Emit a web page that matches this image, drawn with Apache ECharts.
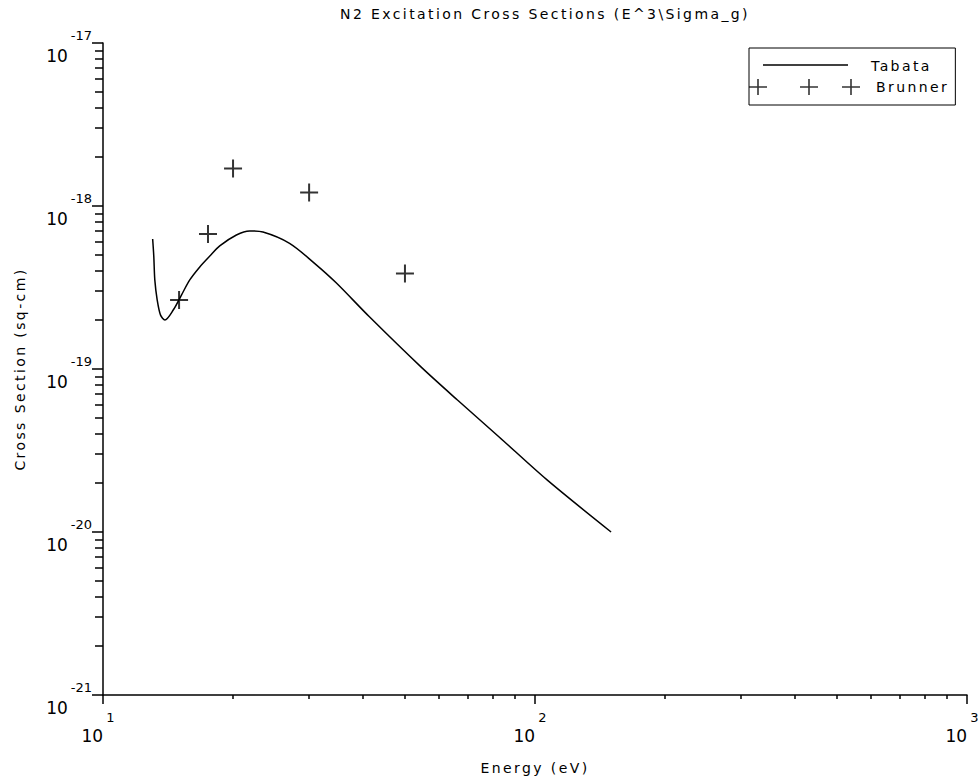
<!DOCTYPE html>
<html><head><meta charset="utf-8">
<script src="https://cdn.jsdelivr.net/npm/echarts@6/dist/echarts.min.js"></script>
<style>
html,body{margin:0;padding:0;background:#fff}
#c{width:978px;height:781px}
#c svg text[style*="14px"], #c svg text[font-size="14"], #c svg text[font-size="14px"]{letter-spacing:2.4px}
</style>
</head><body><div id="c"></div>
<script>
const titleText = 'N2 Excitation Cross Sections (E^3\\Sigma_g)';
const xName = 'Energy (eV)';
const yName = 'Cross Section (sq-cm)';
const seriesNames = ['Tabata', 'Brunner'];

const tabataEnergy = [13.03, 13.11, 13.18, 13.35, 13.59, 13.91, 14.54, 15.19, 15.88, 16.75, 17.67, 18.63, 20.36, 21.85, 23.46, 27.03, 30.88, 34.65, 41.37, 54.45, 66.15, 82.59, 106.8, 150];
const tabataSigma = [6.27e-19, 4.89e-19, 3.52e-19, 2.65e-19, 2.14e-19, 2.00e-19, 2.30e-19, 2.84e-19, 3.52e-19, 4.23e-19, 4.93e-19, 5.69e-19, 6.64e-19, 7.03e-19, 6.92e-19, 5.90e-19, 4.45e-19, 3.38e-19, 2.09e-19, 1.03e-19, 6.45e-20, 3.83e-20, 2.08e-20, 1.0e-20];

const brunnerEnergy = [15, 17.5, 20, 30, 50];
const brunnerSigma = [2.65e-19, 6.73e-19, 1.70e-18, 1.21e-18, 3.86e-19];

const xMajorTicks = [10, 100, 1000];
const yMajorTicks = [1e-21, 1e-20, 1e-19, 1e-18, 1e-17];
const xMinorTicks = [20, 30, 40, 50, 60, 70, 80, 90, 200, 300, 400, 500, 600, 700, 800, 900];
const yMinorTicks = [2e-21, 3e-21, 4e-21, 5e-21, 6e-21, 7e-21, 8e-21, 9e-21,
  2e-20, 3e-20, 4e-20, 5e-20, 6e-20, 7e-20, 8e-20, 9e-20,
  2e-19, 3e-19, 4e-19, 5e-19, 6e-19, 7e-19, 8e-19, 9e-19,
  2e-18, 3e-18, 4e-18, 5e-18, 6e-18, 7e-18, 8e-18, 9e-18];

const FONT = 'DejaVu Sans';
const plusPath = 'path://M0,8H18V10H0Z M8,0H10V18H8Z';
const tabataIcon = 'path://M0,0M111,16M14,6.3H99V7.7H14Z';
const brunnerIcon = 'path://M0,7.2H18V8.8H0Z M8.2,0H9.8V16H8.2Z M51,7.2H69V8.8H51Z M59.2,0H60.8V16H59.2Z M93,7.2H111V8.8H93Z M101.2,0H102.8V16H101.2Z';

const powFmt = v => '{b|10}{e|' + Math.round(Math.log10(v)) + '}';

const chart = echarts.init(document.getElementById('c'), null, { renderer: 'svg' });
chart.setOption({
  animation: false,
  backgroundColor: '#fff',
  title: {
    text: titleText, left: 540, top: 2, textAlign: 'center',
    textStyle: { fontFamily: FONT, fontSize: 14, fontWeight: 'normal', color: '#000' }
  },
  legend: {
    orient: 'vertical', left: 749, top: 48,
    itemWidth: 111, itemHeight: 16, itemGap: 5,
    padding: [10, 23, 10, 0],
    borderColor: '#000', borderWidth: 1,
    selectedMode: false,
    textStyle: { fontFamily: FONT, fontSize: 14, color: '#000' },
    data: [
      { name: seriesNames[0], icon: tabataIcon, textStyle: { padding: [3, 0, 0, 6] } },
      { name: seriesNames[1], icon: brunnerIcon, textStyle: { padding: [0, 0, 0, 11] } }
    ]
  },
  grid: { left: 103, right: 11, top: 43, bottom: 86, containLabel: false, outerBoundsMode: 'none' },
  xAxis: [
    {
      type: 'log', logBase: 10, min: 10, max: 1000, position: 'bottom',
      name: xName, nameLocation: 'middle', nameGap: 66,
      nameTextStyle: { fontFamily: FONT, fontSize: 14, color: '#000' },
      axisLine: { lineStyle: { color: '#000', width: 1.5 } },
      axisTick: { show: true, length: 9, lineStyle: { color: '#000', width: 1.5 }, customValues: xMajorTicks },
      axisLabel: {
        customValues: xMajorTicks, margin: 23, formatter: powFmt, color: '#000',
        rich: {
          b: { fontFamily: FONT, fontSize: 17, lineHeight: 17, color: '#000', padding: [18, 0, 0, 0] },
          e: { fontFamily: FONT, fontSize: 13, lineHeight: 13, color: '#000', padding: [2, 10, 20, 3] }
        }
      },
      splitLine: { show: false }
    },
    {
      type: 'log', logBase: 10, min: 10, max: 1000, position: 'bottom',
      axisLine: { show: false },
      axisTick: { show: true, length: 4, lineStyle: { color: '#000', width: 1.5 }, customValues: xMinorTicks },
      axisLabel: { show: false },
      splitLine: { show: false }
    }
  ],
  yAxis: [
    {
      type: 'log', logBase: 10, min: 1e-21, max: 1e-17, position: 'left',
      name: yName, nameLocation: 'middle', nameGap: 76,
      nameTextStyle: { fontFamily: FONT, fontSize: 14, color: '#000' },
      axisLine: { lineStyle: { color: '#000', width: 1.5 } },
      axisTick: { show: true, length: 11, lineStyle: { color: '#000', width: 1.5 }, customValues: yMajorTicks },
      axisLabel: {
        customValues: yMajorTicks, margin: 11, formatter: powFmt, color: '#000',
        rich: {
          b: { fontFamily: FONT, fontSize: 17, lineHeight: 17, color: '#000', padding: [30, 0, 5, 0] },
          e: { fontFamily: FONT, fontSize: 13, lineHeight: 13, color: '#000', padding: [12, 0, 27, 3] }
        }
      },
      splitLine: { show: false }
    },
    {
      type: 'log', logBase: 10, min: 1e-21, max: 1e-17, position: 'left',
      axisLine: { show: false },
      axisTick: { show: true, length: 8, lineStyle: { color: '#000', width: 1.5 }, customValues: yMinorTicks },
      axisLabel: { show: false },
      splitLine: { show: false }
    }
  ],
  series: [
    {
      name: seriesNames[0], type: 'line', xAxisIndex: 0, yAxisIndex: 0,
      data: tabataEnergy.map((e, i) => [e, tabataSigma[i]]),
      showSymbol: false, symbol: 'none', smooth: 0.3,
      lineStyle: { color: '#000', width: 1.5 }, itemStyle: { color: '#000' }
    },
    {
      name: seriesNames[1], type: 'scatter', xAxisIndex: 0, yAxisIndex: 0,
      data: brunnerEnergy.map((e, i) => [e, brunnerSigma[i]]),
      symbol: plusPath, symbolSize: 18,
      itemStyle: { color: '#000' }
    }
  ]
});
</script>
</body></html>
